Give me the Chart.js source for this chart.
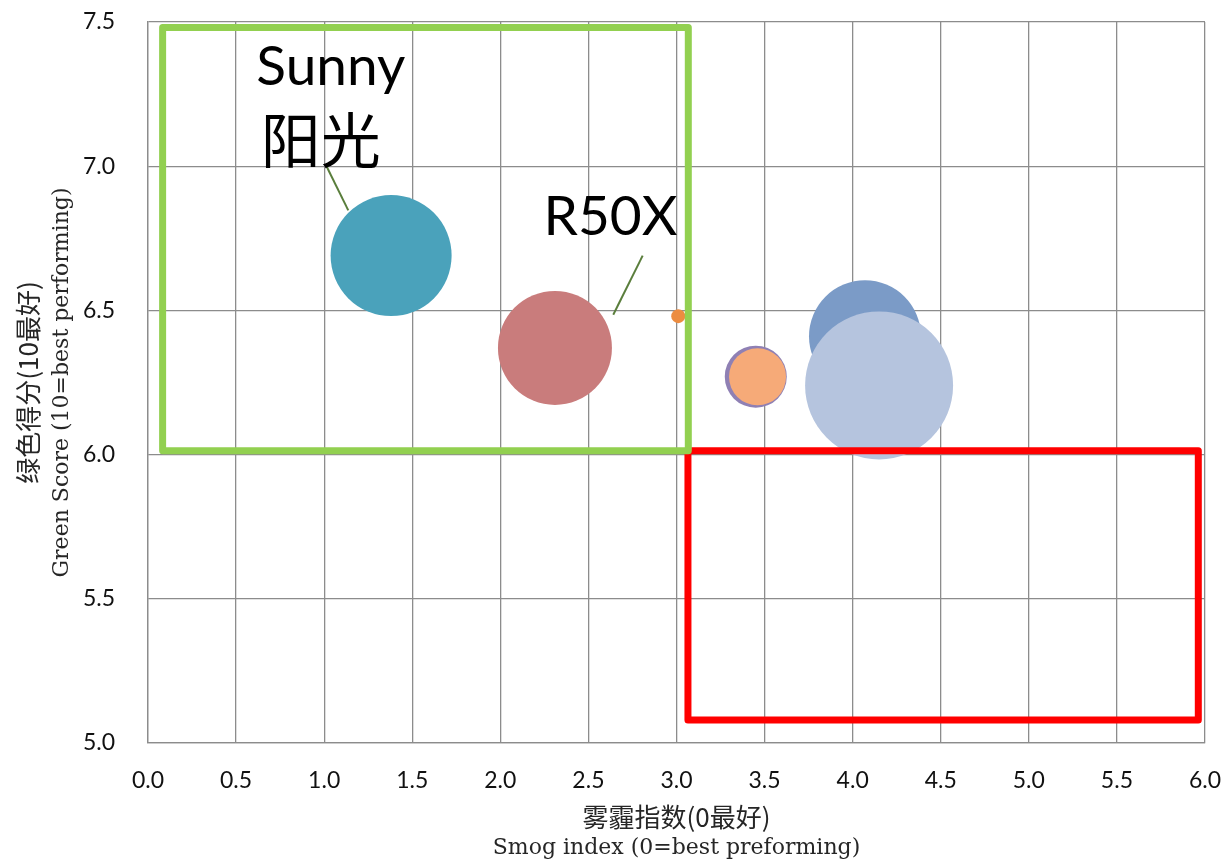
<!DOCTYPE html>
<html>
<head>
<meta charset="utf-8">
<title>Smog index vs Green Score</title>
<script src="https://cdn.jsdelivr.net/npm/chart.js@4/dist/chart.umd.min.js"></script>
<style>
  html, body { margin: 0; padding: 0; background: #ffffff; }
  #wrap { width: 1221px; height: 867px; }
</style>
</head>
<body>
<div id="wrap"><canvas id="chart" width="1221" height="867"></canvas></div>
<script>
// Bubble values: smog index (x), green score (y), bubble radius
const smogIndex  = [1.38, 2.31, 3.01, 3.45, 3.46, 4.07, 4.15];
const greenScore = [6.69, 6.37, 6.48, 6.27, 6.27, 6.41, 6.24];
const bubbleR    = [60.5, 57, 7, 31, 28.5, 56, 74];
const bubbleColors = ['#4aa2bb', '#c97c7c', '#ec8c40', '#8f80b4', '#f6aa78', '#7b9bc7', '#b5c4de'];

// Axis tick labels
const xTickLabels = ['0.0','0.5','1.0','1.5','2.0','2.5','3.0','3.5','4.0','4.5','5.0','5.5','6.0'];
const yTickLabels = ['5.0','5.5','6.0','6.5','7.0','7.5'];

// Axis titles (two lines each)
const xTitleLines = ['雾霾指数(0最好)', 'Smog index (0=best preforming)'];
const yTitleLines = ['绿色得分(10最好)', 'Green Score (10=best performing)'];

// Highlight zones in data units: [xMin, xMax, yMin, yMax]
const greenZone = [0.083, 3.067, 6.013, 7.481];
const redZone   = [3.065, 5.962, 5.080, 6.013];

// Callout texts with their leader lines (data units)
const calloutTexts  = ['Sunny', '阳光', 'R50X'];
const calloutX      = [0.615, 0.64, 2.245];
const calloutY      = [7.283, 7.090, 6.762];
const leaderFrom    = [[1.014, 6.999], [2.808, 6.690]];
const leaderTo      = [[1.137, 6.847], [2.641, 6.485]];

const points = smogIndex.map((x, i) => ({ x: x, y: greenScore[i], r: bubbleR[i] }));

const latin = 'Lato, "Open Sans", sans-serif';
const cjk = '"Noto Sans CJK SC", "Noto Sans", sans-serif';
const serif = '"DejaVu Serif", "Liberation Serif", serif';

const overlayPlugin = {
  id: 'overlay',
  afterDatasetsDraw(chart) {
    const ctx = chart.ctx;
    const xs = chart.scales.x, ys = chart.scales.y;
    const zone = (z, color) => {
      const x0 = xs.getPixelForValue(z[0]), x1 = xs.getPixelForValue(z[1]);
      const y0 = ys.getPixelForValue(z[3]), y1 = ys.getPixelForValue(z[2]);
      ctx.save();
      ctx.strokeStyle = color;
      ctx.lineWidth = 7;
      ctx.lineJoin = 'round';
      ctx.strokeRect(x0, y0, x1 - x0, y1 - y0);
      ctx.restore();
    };
    zone(redZone, '#ff0000');
    zone(greenZone, '#92d050');

    // leader lines
    ctx.save();
    ctx.strokeStyle = '#5a7e3c';
    ctx.lineWidth = 2;
    leaderFrom.forEach((p, i) => {
      ctx.beginPath();
      ctx.moveTo(xs.getPixelForValue(p[0]), ys.getPixelForValue(p[1]));
      ctx.lineTo(xs.getPixelForValue(leaderTo[i][0]), ys.getPixelForValue(leaderTo[i][1]));
      ctx.stroke();
    });
    ctx.restore();

    // callout texts
    ctx.save();
    ctx.fillStyle = '#000000';
    ctx.textAlign = 'left';
    calloutTexts.forEach((t, i) => {
      const isCjk = /[\u4e00-\u9fff]/.test(t);
      ctx.font = isCjk ? '60px ' + cjk : '55px ' + latin;
      ctx.textBaseline = isCjk ? 'middle' : 'alphabetic';
      ctx.fillText(t, xs.getPixelForValue(calloutX[i]), ys.getPixelForValue(calloutY[i]));
    });
    ctx.restore();
  },
  afterDraw(chart) {
    const ctx = chart.ctx;
    const area = chart.chartArea;
    const cx = (area.left + area.right) / 2;
    const cy = (area.top + area.bottom) / 2;
    ctx.save();
    ctx.fillStyle = '#262626';
    ctx.textAlign = 'center';
    ctx.textBaseline = 'middle';
    // x-axis title
    ctx.font = '26px ' + cjk;
    ctx.fillText(xTitleLines[0], cx, 817);
    ctx.font = '22px ' + serif;
    ctx.fillText(xTitleLines[1], cx, 848);
    // y-axis title
    ctx.translate(0, cy);
    ctx.rotate(-Math.PI / 2);
    ctx.font = '26px ' + cjk;
    ctx.fillText(yTitleLines[0], 0, 28);
    ctx.font = '22px ' + serif;
    ctx.fillText(yTitleLines[1], 0, 62);
    ctx.restore();
  }
};

new Chart(document.getElementById('chart'), {
  type: 'bubble',
  data: {
    datasets: [{
      data: points,
      backgroundColor: bubbleColors,
      borderWidth: 0,
      hoverRadius: 0,
      hoverBorderWidth: 0
    }]
  },
  options: {
    responsive: false,
    devicePixelRatio: 1,
    animation: false,
    layout: { autoPadding: false, padding: { left: 0, top: 22, right: 16, bottom: 0 } },
    plugins: {
      legend: { display: false },
      tooltip: { enabled: false }
    },
    scales: {
      x: {
        type: 'linear',
        min: 0, max: 6,
        afterFit(scale) {
          scale.height = 124;
          scale.paddingLeft = 0;
          scale.paddingRight = 0;
        },
        ticks: {
          stepSize: 0.5,
          padding: 24,
          color: '#111111',
          font: { family: latin, size: 23 },
          callback: (v, i) => xTickLabels[i]
        },
        grid: { color: '#8c8c8c', lineWidth: 1.3, drawTicks: false },
        border: { display: true, color: '#8c8c8c', width: 1.3 }
      },
      y: {
        type: 'linear',
        min: 5, max: 7.5,
        afterFit(scale) {
          scale.width = 148;
          scale.paddingTop = 0;
          scale.paddingBottom = 0;
        },
        ticks: {
          stepSize: 0.5,
          padding: 33,
          color: '#111111',
          font: { family: latin, size: 23 },
          callback: (v, i) => yTickLabels[i]
        },
        grid: { color: '#8c8c8c', lineWidth: 1.3, drawTicks: false },
        border: { display: true, color: '#8c8c8c', width: 1.3 }
      }
    }
  },
  plugins: [overlayPlugin]
});
</script>
</body>
</html>
